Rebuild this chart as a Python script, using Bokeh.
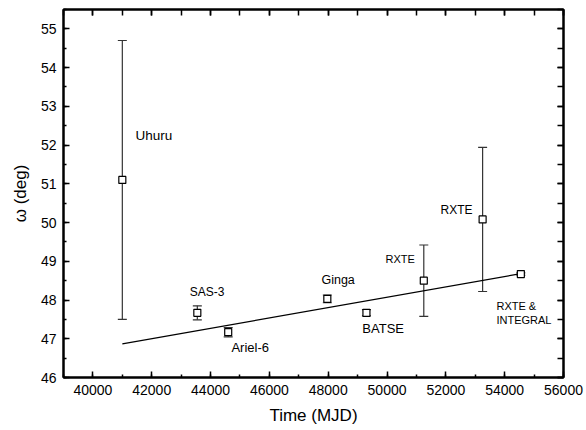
from bokeh.plotting import figure
from bokeh.models import (ColumnDataSource, Whisker, TeeHead, LinearAxis, Range1d,
                          SingleIntervalTicker, CustomLabelingPolicy)
from bokeh.core.properties import value
from bokeh.embed import file_html
from bokeh.resources import INLINE

# Data
mjd = [41000, 43550, 44600, 47970, 49300, 51250, 53250, 54550]
omega = [51.10, 47.67, 47.17, 48.03, 47.67, 48.50, 50.08, 48.67]
omega_err = [3.60, 0.18, 0.12, 0.10, 0.08, 0.92, 1.86, 0.03]

fit_x = [41000, 54550]
fit_y = [46.87, 48.68]

label_text = ["Uhuru", "SAS-3", "Ariel-6", "Ginga", "BATSE", "RXTE", "RXTE", "RXTE &", "INTEGRAL"]
label_x = [41450, 43290, 44710, 47770, 49160, 49950, 51820, 53720, 53720]
label_y = [52.26, 48.21, 46.77, 48.52, 47.27, 49.06, 50.32, 47.85, 47.48]
label_size = ["13.5px", "12px", "13px", "12.5px", "13px", "11px", "12px", "11px", "11px"]

FONT = "Liberation Sans"

src = ColumnDataSource(dict(
    x=mjd, y=omega,
    lo=[o - e for o, e in zip(omega, omega_err)],
    hi=[o + e for o, e in zip(omega, omega_err)],
))

p = figure(width=586, height=430, output_backend="svg", toolbar_location=None,
           x_range=Range1d(39000, 56000), y_range=Range1d(46, 55.5),
           min_border_left=63, min_border_right=23, min_border_top=9, min_border_bottom=53)
p.xgrid.visible = False
p.ygrid.visible = False
p.outline_line_color = "black"
p.outline_line_width = 2
p.background_fill_color = "white"
p.border_fill_color = "white"

p.xaxis.ticker = SingleIntervalTicker(interval=2000, num_minor_ticks=2)
p.yaxis.ticker = SingleIntervalTicker(interval=1, num_minor_ticks=2)

for ax in [p.xaxis[0], p.yaxis[0]]:
    ax.axis_line_width = 2
    ax.major_tick_in = 6
    ax.major_tick_out = 0
    ax.minor_tick_in = 3
    ax.minor_tick_out = 0
    ax.major_tick_line_width = 1.5
    ax.minor_tick_line_width = 1.5
    ax.major_label_text_font = FONT
    ax.major_label_text_font_size = "14px"
    ax.major_label_text_color = "black"
    ax.axis_label_text_font = FONT
    ax.axis_label_text_font_size = "17px"
    ax.axis_label_text_font_style = "normal"
    ax.axis_label_text_color = "black"
    ax.major_label_standoff = 7

p.xaxis.axis_label = "Time (MJD)"
p.yaxis.axis_label = "ω (deg)"
p.xaxis.axis_label_standoff = 8
p.yaxis.axis_label_standoff = 8

no_labels = CustomLabelingPolicy(code="""
    for (const i of indices)
        indices.unset(i)
    return indices
""")

top = LinearAxis(ticker=SingleIntervalTicker(interval=2000, num_minor_ticks=2))
right = LinearAxis(ticker=SingleIntervalTicker(interval=1, num_minor_ticks=2))
for ax in [top, right]:
    ax.axis_line_width = 2
    ax.major_tick_in = 6
    ax.major_tick_out = 0
    ax.minor_tick_in = 6
    ax.minor_tick_out = 0
    ax.major_tick_line_width = 1.5
    ax.minor_tick_line_width = 1.5
    ax.major_label_policy = no_labels
    ax.major_label_text_font_size = "0px"
    ax.major_label_standoff = 0
p.add_layout(top, "above")
p.add_layout(right, "right")

w = Whisker(source=src, base="x", upper="hi", lower="lo", dimension="height",
            line_color="#333333", line_width=1.2,
            upper_head=TeeHead(size=9, line_color="#333333", line_width=1.2),
            lower_head=TeeHead(size=9, line_color="#333333", line_width=1.2))
p.add_layout(w)

p.line(fit_x, fit_y, line_color="black", line_width=1.2)

p.scatter("x", "y", source=src, marker="square", size=7,
          fill_color="white", line_color="black", line_width=1.2)

lsrc = ColumnDataSource(dict(x=label_x, y=label_y, t=label_text, s=label_size))
p.text("x", "y", text="t", source=lsrc, text_font=value(FONT), text_font_size="s",
       text_align="left", text_baseline="middle", text_color="black")

open("out.html", "w").write(file_html(p, INLINE))
